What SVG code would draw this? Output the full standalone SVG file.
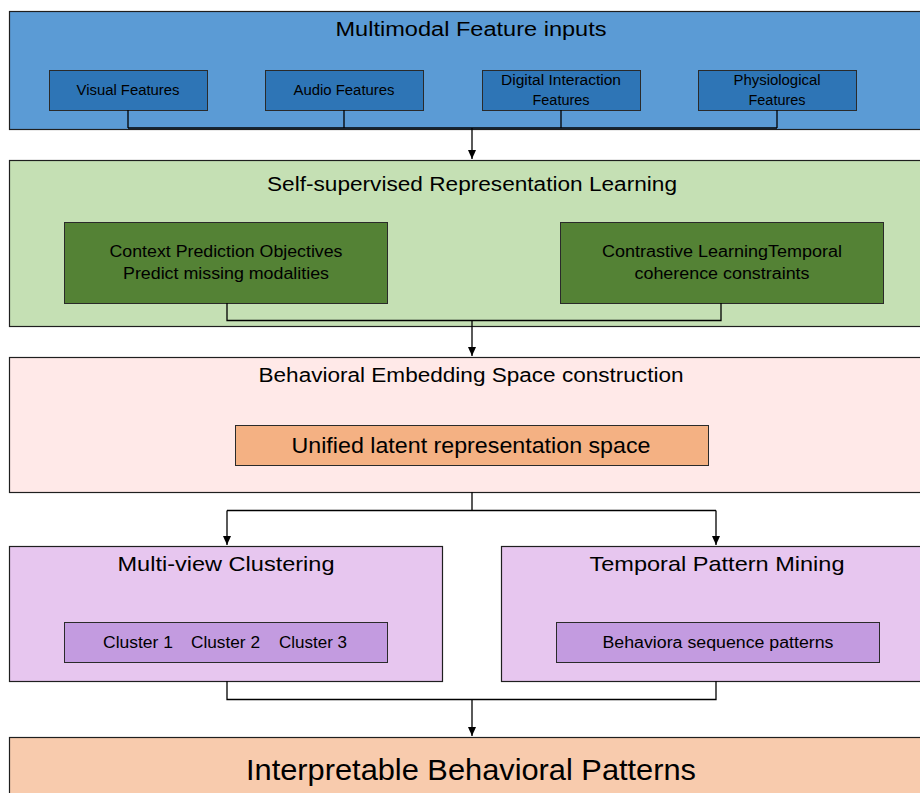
<svg xmlns="http://www.w3.org/2000/svg" width="920" height="793" viewBox="0 0 920 793">
<defs>
<marker id="arr" markerWidth="10" markerHeight="10" refX="9" refY="5" orient="auto" markerUnits="userSpaceOnUse">
<path d="M0,1 L9,5 L0,9 z" fill="#000"/>
</marker>
</defs>
<style>
text{font-family:"Liberation Sans",Arial,sans-serif;fill:#000;text-anchor:middle}
.outer{stroke:#1f1f1f;stroke-width:1.2}
.inner{stroke:#2a2a2a;stroke-width:1}
.con{fill:none;stroke:#000;stroke-width:1.3}
</style>
<rect width="920" height="793" fill="#fff"/>

<g id="inputs">
<rect class="outer" x="9.5" y="11.5" width="915" height="118" fill="#5b9bd5"/>
<text x="471" y="36" font-size="20" textLength="271" lengthAdjust="spacingAndGlyphs">Multimodal Feature inputs</text>
<g id="visual"><rect class="inner" x="49.5" y="70.5" width="158" height="40" fill="#2e75b6"/>
<text x="128" y="95" font-size="14" textLength="103" lengthAdjust="spacingAndGlyphs">Visual Features</text></g>
<g id="audio"><rect class="inner" x="265.5" y="70.5" width="158" height="40" fill="#2e75b6"/>
<text x="344" y="95" font-size="14" textLength="101" lengthAdjust="spacingAndGlyphs">Audio Features</text></g>
<g id="digital"><rect class="inner" x="482.5" y="70.5" width="158" height="40" fill="#2e75b6"/>
<text x="561" y="85" font-size="14" textLength="120" lengthAdjust="spacingAndGlyphs">Digital Interaction</text>
<text x="561" y="105" font-size="14" textLength="57" lengthAdjust="spacingAndGlyphs">Features</text></g>
<g id="physio"><rect class="inner" x="698.5" y="70.5" width="158" height="40" fill="#2e75b6"/>
<text x="777" y="85" font-size="14" textLength="87" lengthAdjust="spacingAndGlyphs">Physiological</text>
<text x="777" y="105" font-size="14" textLength="57" lengthAdjust="spacingAndGlyphs">Features</text></g>
</g>

<g id="ssl">
<rect class="outer" x="9.5" y="160.5" width="915" height="166" fill="#c5e0b4"/>
<text x="472" y="191" font-size="20" textLength="410" lengthAdjust="spacingAndGlyphs">Self-supervised Representation Learning</text>
<g id="context"><rect class="inner" x="64.5" y="222.5" width="323" height="81" fill="#548235"/>
<text x="226" y="257" font-size="16" textLength="233" lengthAdjust="spacingAndGlyphs">Context Prediction Objectives</text>
<text x="226" y="279" font-size="16" textLength="206" lengthAdjust="spacingAndGlyphs">Predict missing modalities</text></g>
<g id="contrastive"><rect class="inner" x="560.5" y="222.5" width="323" height="81" fill="#548235"/>
<text x="722" y="257" font-size="16" textLength="240" lengthAdjust="spacingAndGlyphs">Contrastive LearningTemporal</text>
<text x="722" y="279" font-size="16" textLength="175" lengthAdjust="spacingAndGlyphs">coherence constraints</text></g>
</g>

<g id="embedding">
<rect class="outer" x="9.5" y="357.5" width="915" height="135" fill="#ffe9e8"/>
<text x="471" y="382" font-size="20" textLength="425" lengthAdjust="spacingAndGlyphs">Behavioral Embedding Space construction</text>
<g id="unified"><rect class="inner" x="235.5" y="425.5" width="473" height="40" fill="#f4b183"/>
<text x="471" y="453" font-size="22" textLength="359" lengthAdjust="spacingAndGlyphs">Unified latent representation space</text></g>
</g>

<g id="clustering">
<rect class="outer" x="9.5" y="546.5" width="433" height="135" fill="#e7c6ef"/>
<text x="226" y="571" font-size="21" textLength="217" lengthAdjust="spacingAndGlyphs">Multi-view Clustering</text>
<g id="clusters"><rect class="inner" x="64.5" y="622.5" width="323" height="40" fill="#c39be0"/>
<text x="138" y="648" font-size="16" textLength="70" lengthAdjust="spacingAndGlyphs">Cluster 1</text>
<text x="225.5" y="648" font-size="16" textLength="69" lengthAdjust="spacingAndGlyphs">Cluster 2</text>
<text x="313" y="648" font-size="16" textLength="68" lengthAdjust="spacingAndGlyphs">Cluster 3</text></g>
</g>

<g id="temporal">
<rect class="outer" x="501.5" y="546.5" width="423" height="135" fill="#e7c6ef"/>
<text x="717" y="571" font-size="21" textLength="255" lengthAdjust="spacingAndGlyphs">Temporal Pattern Mining</text>
<g id="sequence"><rect class="inner" x="556.5" y="622.5" width="323" height="40" fill="#c39be0"/>
<text x="718" y="648" font-size="16" textLength="231" lengthAdjust="spacingAndGlyphs">Behaviora sequence patterns</text></g>
</g>

<g id="output">
<rect class="outer" x="9.5" y="737.5" width="915" height="70" fill="#f8cbad"/>
<text x="471" y="780" font-size="30" textLength="450" lengthAdjust="spacingAndGlyphs">Interpretable Behavioral Patterns</text>
</g>

<g id="connectors">
<path class="con" d="M128,110 V128 M344,110 V128 M561,110 V128 M777,110 V128 M128,128 H777"/>
<path class="con" d="M472,128 V159" marker-end="url(#arr)"/>
<path class="con" d="M227,303 V320.5 H721 V303"/>
<path class="con" d="M472,320.5 V356" marker-end="url(#arr)"/>
<path class="con" d="M472,492 V510.5 M227,510.5 H716"/>
<path class="con" d="M227,510.5 V545" marker-end="url(#arr)"/>
<path class="con" d="M716,510.5 V545" marker-end="url(#arr)"/>
<path class="con" d="M227,681 V699.5 H716 V681"/>
<path class="con" d="M472,699.5 V736" marker-end="url(#arr)"/>
</g>
</svg>
